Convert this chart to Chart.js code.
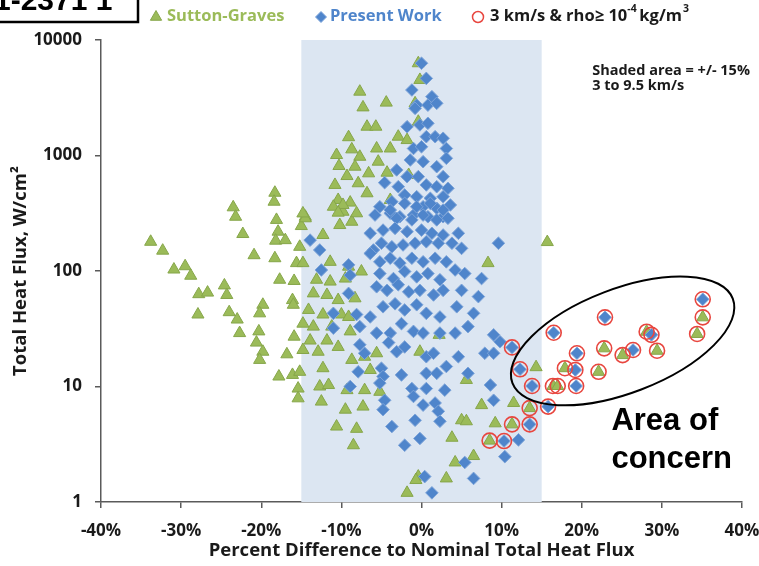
<!DOCTYPE html>
<html>
<head>
<meta charset="utf-8">
<script src="https://cdn.jsdelivr.net/npm/chart.js@4.4.1/dist/chart.umd.min.js"></script>
<style>
  html, body { margin: 0; padding: 0; background: #ffffff; }
  #wrap { width: 759px; height: 566px; position: relative; }
</style>
</head>
<body>
<div id="wrap"><canvas id="chart" width="759" height="566"></canvas></div>
<script>
// Axis ticks
const xTicks = [-40, -30, -20, -10, 0, 10, 20, 30, 40];
const yTicks = [1, 10, 100, 1000, 10000];

// +/- 15% band
const shadedBand = [-15, 15];

// Sutton-Graves correlation: [percent difference, total heat flux W/cm2]
const suttonGraves = [
  [-33.8,179],[-32.3,150],[-30.9,103],[-29.5,110],[-28.8,91],[-27.8,63],[-26.7,65],[-27.9,42],
  [-24.6,75],[-24.3,62],[-24.0,44],[-23.0,38],[-22.7,29],[-23.5,356],[-23.2,295],[-22.3,209],
  [-20.9,137],[-19.8,51],[-20.2,43],[-20.3,30],[-20.6,24],[-19.8,20],[-20.2,17],[-18.3,476],
  [-18.4,398],[-18.1,277],[-17.9,219],[-18.2,183],[-17.0,185],[-18.3,129],[-17.7,84],[-15.9,82],
  [-16.1,56],[-16.0,51],[-15.9,27],[-16.8,19],[-17.8,12.2],[-16.1,12.6],[-15.2,13.4],[-14.5,295],
  [-15.0,245],[-15.2,162],[-15.6,117],[-14.8,117],
  [-7.7,3570],[-7.3,2610],[-4.4,2870],[-6.8,1775],[-5.7,1775],[-9.1,1440],[-8.7,1130],[-2.9,1455],
  [-10.6,1010],[-7.7,975],[-5.6,1150],[-3.9,1150],[-10.3,811],[-8.3,800],[-5.4,884],[-9.3,664],
  [-6.6,701],[-4.3,710],[-10.8,556],[-7.9,575],[-10.4,412],[-8.9,391],[-6.8,471],[-9.8,326],
  [-3.9,412],[-0.4,6290],[-0.2,4510],[-0.8,2830],[-0.4,1960],[-1.8,1360],[-1.6,678],[-11.0,360],
  [-9.8,373],[-14.5,286],[-10.2,250],[-8.7,267],[-12.3,205],[-11.4,120],[-9.1,109],[-7.5,99],
  [-13.1,84],[-11.4,81],[-9.5,86],[-13.5,64],[-11.8,62],[-10.4,56],[-8.3,58],[-14.1,46],
  [-12.3,42],[-10.0,42],[-9.1,40],[-14.8,35],[-13.5,33],[-11.2,33],[-8.9,30],[-13.9,25],
  [-11.8,25],[-10.4,22],[-14.8,20.7],[-12.9,20],[-5.6,19.4],[-7.1,18.1],[-0.2,20],[2.2,28],
  [-12.3,14.4],[-8.7,17],[-6.4,13.9],[-15.4,9.6],[-12.7,10],[-11.6,10.3],[-9.3,9.3],[-7.1,9.3],
  [-5.2,9.0],[-15.4,7.9],[-12.5,7.4],[-9.5,6.3],[-7.3,6.7],[-10.6,4.5],[-8.1,4.3],[-8.5,3.1],
  [5.0,5.1],[5.6,5.0],[3.8,3.6],[4.2,2.2],[6.5,2.5],[-0.4,1.66],[3.1,1.6],[8.3,117],
  [5.6,11.4],[7.5,6.9],[9.2,4.8],[-1.8,1.2],[-0.7,1.55],[15.7,178],[14.3,14.7],[11.5,7.2],
  [-14.8,315],[-10.4,320],[-8.1,316]
];

// Present work: [percent difference, total heat flux W/cm2]
const presentWork = [
  [0.0,6290],[0.6,4650],[-1.2,3690],[1.3,3230],[-0.6,2730],[0.8,2730],[1.9,2830],[-0.8,2560],
  [-1.8,1775],[-0.2,1840],[0.8,1900],[0.6,1455],[1.7,1455],[2.7,1410],[-1.0,1150],[0.0,1190],
  [3.1,1150],[-3.1,750],[-1.4,914],[0.2,884],[1.9,800],[3.1,946],[2.7,656],[-1.8,656],
  [-0.4,656],[-4.6,582],[-2.9,537],[0.6,556],[1.9,537],[3.3,520],[-2.1,455],[-0.6,440],
  [1.1,426],[2.7,440],[-3.7,398],[-5.2,360],[0.2,360],[1.9,349],[3.6,373],[-5.8,305],
  [-3.9,316],[-2.7,295],[-1.0,305],[0.8,295],[2.7,295],
  [-3.9,337],[-2.1,385],[-0.6,360],[1.1,385],[2.7,337],[-3.1,286],[-1.2,277],[0.2,305],
  [1.9,277],[3.3,286],[4.6,212],[-6.4,212],[-4.8,226],[-3.3,234],[-1.8,219],[0.0,226],
  [1.3,212],[2.7,205],[-13.9,185],[-12.7,152],[-6.0,152],[-5.0,174],[-3.7,162],[-2.3,168],
  [-0.8,174],[0.6,179],[2.1,174],[3.8,174],[5.0,157],[-12.5,102],[-9.1,113],[-6.4,142],
  [-5.2,120],[-3.9,129],[-2.7,117],[-1.2,129],[0.2,120],[1.7,129],[3.1,120],[4.2,102],
  [5.4,95],[-5.2,95],[-3.5,86],[-2.1,99],[-0.6,89],[0.8,95],[2.3,84],[-8.9,92],
  [-9.1,64],[-5.6,73],[-4.3,68],[-2.9,76],[-1.6,66],[-0.2,68],[1.5,62],[2.7,68],
  [5.0,68],[7.1,60],[-11.0,43],[-8.1,42],[-6.4,40],[-4.8,49],[-3.3,52],[-2.1,46],
  [-0.6,51],[0.6,43],[2.3,40],[4.4,49],[6.5,43],[-11.0,32],[-7.7,33],[-5.6,29],
  [-3.9,29],[-2.5,35],[-1.0,30],[0.2,29],[2.3,29],[4.2,29],[5.8,33],[-7.7,23],
  [-7.1,19.4],[-4.1,24],[-3.1,20],[-2.1,22],[0.6,18.1],[1.5,19.4],[3.1,14.9],[4.6,18.1],
  [7.9,19.4],[9.0,19.4],[9.0,28],[8.6,10.3],[9.0,7.6],[-7.9,13.4],[-5.0,14.4],[-4.8,12.2],
  [-2.5,12.6],[0.6,13],[1.9,13],[5.8,13],[-8.9,10],[-5.2,10.7],[-1.2,9.6],[0.6,9.6],
  [2.9,9.3],[-4.6,7.6],[-1.0,8.2],[0.2,6.9],[1.7,7.2],[-4.8,6.3],[2.1,6.1],[2.3,5.0],
  [-0.8,5.1],[-3.7,4.5],[-2.1,3.1],[-0.2,3.55],[5.4,2.2],[0.4,1.66],[6.5,1.6],[9.6,174],
  [7.5,86],[9.8,24.4],[12.1,3.45],[10.4,2.47],[1.3,1.2]
];

// Cases at 3 km/s with rho >= 1e-4 kg/m3 (these also belong to the series above)
const highDensitySutton = [
  [13.5,6.5],[11.3,4.7],[8.5,3.4],[16.4,10.1],[17.0,10.1],[17.9,14.4],[22.1,13.4],
  [22.8,21.4],[25.1,18.7],[29.4,20.4],[28.1,29.8],[34.4,28.5],[35.1,39.7]
];
const highDensityPresent = [
  [11.3,21.8],[12.3,14.1],[13.8,10.1],[13.5,4.7],[10.3,3.37],[15.8,6.7],[19.2,13.9],
  [19.4,19.4],[19.3,10.1],[16.5,29.2],[22.9,39.7],[26.4,20.7],[28.7,28],[35.1,56.9]
];

// Annotation anchors in data units
const concernEllipse = { center: [25.1, 24.8], semiMajor: 118, semiMinor: 52, tiltDeg: -21 };
const concernLabel = { at: [23.7, 4.2], lines: ['Area of', 'concern'] };
const bandNote = { at: [21.3, 5390], lines: ['Shaded area = +/- 15%', '3 to 9.5 km/s'] };

const toPoints = arr => arr.map(([x, y]) => ({ x, y }));

const TEXT = '#1a1a1a';
const AXIS = '#5a5a5a';
const GREEN = '#9BBB59', GREEN_EDGE = '#86A64A';
const BLUE = '#4F85CB', BLUE_EDGE = '#7DA4D9';
const RED = '#E8463F';
const UI_FONT = '"Open Sans", Lato, sans-serif';

const bandPlugin = {
  id: 'band',
  beforeDatasetsDraw(chart) {
    const { ctx, chartArea, scales: { x } } = chart;
    const x0 = x.getPixelForValue(shadedBand[0]);
    const x1 = x.getPixelForValue(shadedBand[1]);
    ctx.save();
    ctx.fillStyle = '#DCE6F2';
    ctx.fillRect(x0, chartArea.top, x1 - x0, chartArea.bottom - chartArea.top);
    ctx.restore();
  }
};

function drawTriangle(ctx, cx, cy, r, fill, edge) {
  ctx.beginPath();
  ctx.moveTo(cx, cy - r);
  ctx.lineTo(cx + r * Math.cos(Math.PI / 6), cy + r / 2);
  ctx.lineTo(cx - r * Math.cos(Math.PI / 6), cy + r / 2);
  ctx.closePath();
  ctx.fillStyle = fill; ctx.fill();
  ctx.strokeStyle = edge; ctx.lineWidth = 1; ctx.stroke();
}
function drawDiamond(ctx, cx, cy, r, fill, edge) {
  ctx.beginPath();
  ctx.moveTo(cx, cy - r); ctx.lineTo(cx + r, cy); ctx.lineTo(cx, cy + r); ctx.lineTo(cx - r, cy);
  ctx.closePath();
  ctx.fillStyle = fill; ctx.fill();
  ctx.strokeStyle = edge; ctx.lineWidth = 1; ctx.stroke();
}

const overlayPlugin = {
  id: 'overlay',
  afterDatasetsDraw(chart) {
    const { ctx, scales: { x, y } } = chart;
    ctx.save();

    // ellipse around the high-density cases
    const cx = x.getPixelForValue(concernEllipse.center[0]);
    const cy = y.getPixelForValue(concernEllipse.center[1]);
    ctx.beginPath();
    ctx.ellipse(cx, cy, concernEllipse.semiMajor, concernEllipse.semiMinor,
                concernEllipse.tiltDeg * Math.PI / 180, 0, Math.PI * 2);
    ctx.strokeStyle = '#000000';
    ctx.lineWidth = 2;
    ctx.stroke();

    // "Area of concern"
    ctx.fillStyle = '#000000';
    ctx.font = 'bold 31px "Liberation Sans", Arial, sans-serif';
    ctx.textBaseline = 'alphabetic';
    ctx.textAlign = 'left';
    const lx = x.getPixelForValue(concernLabel.at[0]);
    const ly = y.getPixelForValue(concernLabel.at[1]);
    concernLabel.lines.forEach((t, i) => ctx.fillText(t, lx, ly + i * 38));

    // band note
    ctx.font = 'bold 14.5px ' + UI_FONT;
    ctx.textBaseline = 'middle';
    ctx.fillStyle = TEXT;
    const nx = x.getPixelForValue(bandNote.at[0]);
    const ny = y.getPixelForValue(bandNote.at[1]);
    bandNote.lines.forEach((t, i) => ctx.fillText(t, nx, ny + i * 15));

    ctx.restore();
  },
  afterDraw(chart) {
    const { ctx } = chart;
    ctx.save();

    // report number box
    ctx.strokeStyle = '#000000';
    ctx.lineWidth = 2.5;
    ctx.strokeRect(-4, -4, 142, 26);
    ctx.fillStyle = '#000000';
    ctx.font = 'bold 30px "Liberation Sans", Arial, sans-serif';
    ctx.textBaseline = 'alphabetic';
    ctx.textAlign = 'left';
    ctx.fillText('1-2371 1', -6, 10);

    // legend
    const ly = 16;
    const big = 'bold 16.5px ' + UI_FONT;
    const small = 'bold 10.5px ' + UI_FONT;
    ctx.font = big;
    ctx.textBaseline = 'middle';
    ctx.fillStyle = TEXT;
    drawTriangle(ctx, 156, ly + 1, 6.5, GREEN, GREEN_EDGE);
    ctx.fillText('Sutton-Graves', 167, ly);
    drawDiamond(ctx, 321, ly + 1, 5.5, BLUE, BLUE_EDGE);
    ctx.fillText('Present Work', 330, ly);

    ctx.beginPath();
    ctx.arc(478, ly + 1, 5.5, 0, Math.PI * 2);
    ctx.strokeStyle = RED; ctx.lineWidth = 1.5; ctx.stroke();

    let tx = 490;
    const part1 = '3 km/s & rho\u2265 10';
    ctx.fillStyle = TEXT;
    ctx.fillText(part1, tx, ly);
    tx += ctx.measureText(part1).width;
    ctx.font = small;
    ctx.fillText('-4', tx, ly - 7);
    tx += ctx.measureText('-4 ').width;
    ctx.font = big;
    ctx.fillText('kg/m', tx, ly);
    tx += ctx.measureText('kg/m').width;
    ctx.font = small;
    ctx.fillText('3', tx + 1, ly - 7);

    ctx.restore();
  }
};

new Chart(document.getElementById('chart'), {
  type: 'scatter',
  data: {
    datasets: [
      {
        label: '3 km/s & rho\u2265 10^-4 kg/m^3',
        data: toPoints(highDensitySutton.concat(highDensityPresent)),
        pointStyle: 'circle',
        pointRadius: 7.5,
        backgroundColor: 'rgba(255,255,255,0)',
        borderColor: RED,
        borderWidth: 1.6,
        order: 0
      },
      {
        label: 'Present Work',
        data: toPoints(presentWork.concat(highDensityPresent)),
        pointStyle: 'rectRot',
        pointRadius: 6.3,
        backgroundColor: BLUE,
        borderColor: BLUE_EDGE,
        borderWidth: 1,
        order: 1
      },
      {
        label: 'Sutton-Graves',
        data: toPoints(suttonGraves.concat(highDensitySutton)),
        pointStyle: 'triangle',
        pointRadius: 7,
        backgroundColor: GREEN,
        borderColor: GREEN_EDGE,
        borderWidth: 1,
        order: 2
      }
    ]
  },
  options: {
    responsive: false,
    animation: false,
    devicePixelRatio: 1,
    layout: { padding: { left: 0, right: 17, top: 40, bottom: 0 } },
    plugins: { legend: { display: false }, tooltip: { enabled: false } },
    scales: {
      x: {
        type: 'linear',
        min: -40, max: 40,
        afterBuildTicks: s => { s.ticks = xTicks.map(v => ({ value: v })); },
        afterFit: s => { s.height = 64; s.paddingLeft = 0; s.paddingRight = 0; },
        ticks: {
          callback: v => v + '%',
          font: { family: UI_FONT, weight: 'bold', size: 17 },
          color: TEXT, padding: 13, maxRotation: 0, autoSkip: false
        },
        grid: { drawOnChartArea: false, drawTicks: true, tickLength: 6, color: AXIS, lineWidth: 1.5 },
        border: { display: true, color: AXIS, width: 1.5 },
        title: {
          display: true,
          text: 'Percent Difference to Nominal Total Heat Flux',
          font: { family: UI_FONT, weight: 'bold', size: 18.5 },
          color: TEXT,
          padding: { top: 0, bottom: 4 }
        }
      },
      y: {
        type: 'logarithmic',
        min: 1, max: 10000,
        afterBuildTicks: s => { s.ticks = yTicks.map(v => ({ value: v })); },
        afterFit: s => { s.width = 101; s.paddingTop = 0; s.paddingBottom = 0; },
        ticks: {
          callback: v => String(v),
          font: { family: UI_FONT, weight: 'bold', size: 17 },
          color: TEXT, padding: 13, autoSkip: false
        },
        grid: { drawOnChartArea: false, drawTicks: true, tickLength: 6, color: AXIS, lineWidth: 1.5 },
        border: { display: true, color: AXIS, width: 1.5 },
        title: {
          display: true,
          text: 'Total Heat Flux, W/cm\u00B2',
          font: { family: UI_FONT, weight: 'bold', size: 18.5 },
          color: TEXT,
          padding: { top: 10, bottom: 0 }
        }
      }
    }
  },
  plugins: [bandPlugin, overlayPlugin]
});
</script>
</body>
</html>
